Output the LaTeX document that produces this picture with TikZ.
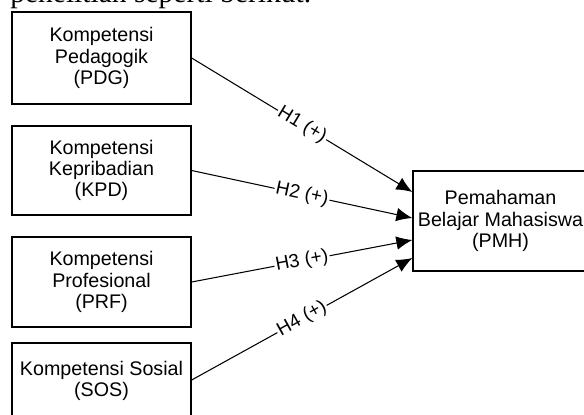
\documentclass[tikz,border=0pt]{standalone}
\usepackage{fontspec}
\setmainfont{Liberation Sans}
\newfontfamily\serifpart{Liberation Serif}
\usetikzlibrary{arrows.meta,calc,positioning}

\tikzset{
  varbox/.style={draw=black, line width=0.9pt, rectangle, align=center,
    minimum width=4.475cm, font=\fontsize{14}{15.2}\selectfont, inner sep=2pt},
  hyp/.style={line width=0.75pt, -{Latex[length=4mm,width=3.4mm]}},
  hlabel/.style={sloped, fill=white, inner sep=1pt, font=\fontsize{13.5}{15}\selectfont}
}

\begin{document}
\begin{tikzpicture}[x=0.025cm, y=-0.025cm]
\useasboundingbox (0,0) rectangle (584,414);
\clip (0,0) rectangle (584,414);

% sentence above the figure (cut off)
\node[anchor=base west, inner sep=0pt, font=\serifpart\fontsize{21}{24}\selectfont] (txt) at (10,3) {penelitian seperti berikut.};

% independent variables
\node[varbox, minimum height=2.3cm] (PDG) at (101.5,58) {Kompetensi\\Pedagogik\\(PDG)};
\node[varbox, minimum height=2.225cm] (KPD) at (101.5,170.5) {Kompetensi\\Kepribadian\\(KPD)};
\node[varbox, minimum height=2.25cm] (PRF) at (101.5,282) {Kompetensi\\Profesional\\(PRF)};
\node[varbox, minimum height=1.9cm] (SOS) at (101.5,381) {Kompetensi Sosial\\(SOS)};

% dependent variable
\node[varbox, minimum width=4.375cm, minimum height=2.5cm] (PMH) at (500.5,221) {Pemahaman\\Belajar Mahasiswa\\(PMH)};

\coordinate (e1) at ($(PMH.west)+(0,-29)$);
\coordinate (e2) at ($(PMH.west)+(0,-3)$);
\coordinate (e3) at ($(PMH.west)+(0,19)$);
\coordinate (e4) at ($(PMH.west)+(0,37)$);

\draw[hyp] (PDG.east) -- node[hlabel] {H1 (+)} (e1);
\draw[hyp] (KPD.east) -- node[hlabel] {H2 (+)} (e2);
\draw[hyp] (PRF.east) -- node[hlabel] {H3 (+)} (e3);
\draw[hyp] ($(SOS.east)+(0,-1)$) -- node[hlabel] {H4 (+)} (e4);
\end{tikzpicture}
\end{document}
